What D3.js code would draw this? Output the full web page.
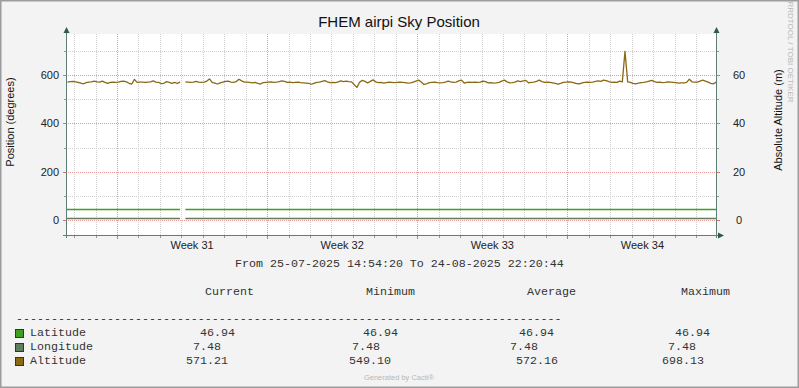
<!DOCTYPE html>
<html>
<head>
<meta charset="utf-8">
<script src="https://cdn.jsdelivr.net/npm/d3@7"></script>
<style>
	body { margin: 0; background: #f3f3f3; }
	svg { display: block; }
</style>
</head>
<body>
<svg id="chart" width="799" height="388"></svg>
<script>

	// Texts
	var title = "FHEM airpi Sky Position";
	var leftTitle = "Position (degrees)";
	var rightTitle = "Absolute Altitude (m)";
	var watermark = "RRDTOOL / TOBI OETIKER";
	var footer = "Generated by Cacti\u00ae";

	// Time range of the graph
	var startTime = new Date(Date.UTC(2025, 6, 25, 14, 54, 20));
	var endTime = new Date(Date.UTC(2025, 7, 24, 22, 20, 44));
	var periodText = "From 25-07-2025 14:54:20 To 24-08-2025 22:20:44";

	// Altitude samples, one every 3 hours from 25-07 16:30 (null = no data)
	var altStart = new Date(Date.UTC(2025, 6, 25, 16, 30));
	var altStepHours = 3;
	var altitude = [
		571, 573, 574, 572, 570, 567, 564, 569, 571, 572,
		575, 572, 571, 575, 570, 566, 570, 571, 570, 571,
		574, 575, 572, 566, 563, 582, 570, 571, 571, 570,
		571, 572, 576, 571, 570, 565, 566, 573, 570, 566,
		570, 565, 572, null, 572, 571, 570, 571, 574, 571,
		570, 571, 575, 584, 570, 567, 563, 568, 571, 574,
		575, 571, 570, 573, 583, 576, 571, 571, 570, 568,
		570, 566, 563, 569, 570, 571, 572, 570, 571, 573,
		576, 574, 570, 571, 569, 570, 571, 569, 568, 567,
		566, 562, 566, 570, 571, 574, 577, 572, 569, 570,
		569, 572, 576, 573, 575, 573, 572, 560, 549.1, 570,
		578, 574, 567, 574, 580, 572, 569, 570, 567, 569,
		571, 570, 569, 570, 571, 570, 569, 567, 568, 571,
		575, 579, 571, 561, 564, 569, 570, 571, 569, 568,
		569, 571, 575, 572, 570, 571, 576, 579, 567, 570,
		571, 570, 571, 570, 571, 575, 573, 568, 569, 567,
		568, 570, 575, 579, 572, 568, 569, 571, 576, 573,
		576, 578, 568, 570, 571, 574, 579, 573, 570, 571,
		570, 568, 566, 563, 566, 570, 571, 572, 571, 568,
		565, 564, 568, 570, 571, 570, 571, 574, 576, 574,
		579, 577, 573, 570, 571, 570, 575, 572, 698.13, 572,
		570, 566, 564, 567, 569, 570, 572, 575, 578, 573,
		570, 571, 569, 570, 572, 571, 570, 569, 567, 568,
		568, 570, 583, 572, 571, 571, 575, 579, 575, 571,
		566, 564, 571.21
	];

	// Latitude / longitude are flat, with the same hole as altitude
	var flatTimes = [startTime, new Date(Date.UTC(2025, 6, 30, 22, 30)), null,
		new Date(Date.UTC(2025, 6, 31, 4, 30)), endTime];
	var latitude = [46.94, 46.94, null, 46.94, 46.94];
	var longitude = [7.48, 7.48, null, 7.48, 7.48];

	// Axes
	var leftMajor = [0, 200, 400, 600];
	var leftMinor = [100, 300, 500, 700];
	var rightLabels = [0, 20, 40, 60];
	var weekLabels = ["Week 31", "Week 32", "Week 33", "Week 34"];

	// Legend
	var seriesNames = ["Latitude", "Longitude", "Altitude"];
	var seriesColors = ["#3f9f22", "#5e7e5e", "#8a6814"];
	var statHeaders = ["Current", "Minimum", "Average", "Maximum"];
	var statCurrent = [46.94, 7.48, 571.21];
	var statMinimum = [46.94, 7.48, 549.10];
	var statAverage = [46.94, 7.48, 572.16];
	var statMaximum = [46.94, 7.48, 698.13];

	var svg = d3.select("#chart");
	var sans = "'Liberation Sans', Arial, sans-serif";
	var mono = "'Liberation Mono', 'Courier New', monospace";

	// frame
	svg.append("rect").attr("x", 0.75).attr("y", 0.75).attr("width", 797.5).attr("height", 386.5)
		.attr("fill", "#f3f3f3").attr("stroke", "#9c9c9c").attr("stroke-width", 1.5);

	var x = d3.scaleUtc().domain([startTime, endTime]).range([66, 716]);
	var y = d3.scaleLinear().domain([-62, 770]).range([235, 34]);
	var yRight = d3.scaleLinear().domain([-6.2, 77]).range([235, 34]);

	// plot area
	svg.append("rect").attr("x", 66).attr("y", 34).attr("width", 650).attr("height", 201).attr("fill", "#fff");

	var grid = svg.append("g").attr("shape-rendering", "crispEdges").attr("stroke-dasharray", "1,1");
	var mondays = d3.utcMonday.range(startTime, endTime);
	var days = d3.utcDay.range(startTime, endTime).filter(function(d) { return d.getUTCDay() !== 1; });

	grid.selectAll(".vmin").data(days).enter().append("line")
		.attr("x1", function(d) { return Math.round(x(d)) + 0.5; })
		.attr("x2", function(d) { return Math.round(x(d)) + 0.5; })
		.attr("y1", 34).attr("y2", 235).attr("stroke", "#cfcfcf");
	grid.selectAll(".hmin").data(leftMinor).enter().append("line")
		.attr("x1", 66).attr("x2", 716)
		.attr("y1", function(d) { return Math.round(y(d)) + 0.5; })
		.attr("y2", function(d) { return Math.round(y(d)) + 0.5; })
		.attr("stroke", "#cfcfcf");
	grid.selectAll(".vmaj").data(mondays).enter().append("line")
		.attr("x1", function(d) { return Math.round(x(d)) + 0.5; })
		.attr("x2", function(d) { return Math.round(x(d)) + 0.5; })
		.attr("y1", 34).attr("y2", 235).attr("stroke", "#e89a9a");
	grid.selectAll(".hmaj").data(leftMajor).enter().append("line")
		.attr("x1", 66).attr("x2", 716)
		.attr("y1", function(d) { return Math.round(y(d)) + 0.5; })
		.attr("y2", function(d) { return Math.round(y(d)) + 0.5; })
		.attr("stroke", "#e89a9a");

	// series
	svg.append("clipPath").attr("id", "plotclip").append("rect")
		.attr("x", 66).attr("y", 30).attr("width", 650).attr("height", 205);
	var series = svg.append("g").attr("clip-path", "url(#plotclip)").attr("fill", "none");

	var flatLine = d3.line()
		.defined(function(d, i) { return d != null; })
		.x(function(d, i) { return x(flatTimes[i]); })
		.y(function(d) { return Math.round(y(d)) + 0.5; });
	series.append("path").attr("d", flatLine(latitude)).attr("stroke", seriesColors[0]).attr("stroke-width", 1.5);
	series.append("path").attr("d", flatLine(longitude)).attr("stroke", seriesColors[1]).attr("stroke-width", 1.5);

	var altLine = d3.line()
		.defined(function(d) { return d != null; })
		.x(function(d, i) { return x(new Date(altStart.getTime() + i * altStepHours * 3600000)); })
		.y(function(d) { return y(d); });
	series.append("path").attr("d", altLine(altitude)).attr("stroke", seriesColors[2])
		.attr("stroke-width", 1.3).attr("stroke-linejoin", "round");

	// axes
	var axisColor = "#5f7f75";
	var axes = svg.append("g").attr("shape-rendering", "crispEdges");
	axes.append("line").attr("x1", 66.5).attr("x2", 66.5).attr("y1", 31).attr("y2", 238).attr("stroke", axisColor);
	axes.append("line").attr("x1", 716.5).attr("x2", 716.5).attr("y1", 31).attr("y2", 238).attr("stroke", axisColor);
	axes.append("line").attr("x1", 63).attr("x2", 719).attr("y1", 235.5).attr("y2", 235.5).attr("stroke", axisColor);
	axes.selectAll(".tmin").data(days).enter().append("line")
		.attr("x1", function(d) { return Math.round(x(d)) + 0.5; })
		.attr("x2", function(d) { return Math.round(x(d)) + 0.5; })
		.attr("y1", 236).attr("y2", 238).attr("stroke", "#999");
	axes.selectAll(".tmaj").data(mondays).enter().append("line")
		.attr("x1", function(d) { return Math.round(x(d)) + 0.5; })
		.attr("x2", function(d) { return Math.round(x(d)) + 0.5; })
		.attr("y1", 236).attr("y2", 239).attr("stroke", "#e07070");
	[leftMajor, leftMinor].forEach(function(set, k) {
		axes.selectAll(null).data(set).enter().append("line")
			.attr("x1", k ? 64 : 63).attr("x2", 66)
			.attr("y1", function(d) { return Math.round(y(d)) + 0.5; })
			.attr("y2", function(d) { return Math.round(y(d)) + 0.5; })
			.attr("stroke", k ? "#999" : "#e07070");
		axes.selectAll(null).data(set).enter().append("line")
			.attr("x1", 717).attr("x2", k ? 719 : 720)
			.attr("y1", function(d) { return Math.round(y(d)) + 0.5; })
			.attr("y2", function(d) { return Math.round(y(d)) + 0.5; })
			.attr("stroke", k ? "#999" : "#e07070");
	});

	// arrow heads
	var arrowColor = "#2f5a4c";
	svg.append("path").attr("d", "M63.5,33 L66.5,27 L69.5,33 Z").attr("fill", arrowColor);
	svg.append("path").attr("d", "M713.5,33 L716.5,27 L719.5,33 Z").attr("fill", arrowColor);
	svg.append("path").attr("d", "M718,232.5 L724,235.5 L718,238.5 Z").attr("fill", arrowColor);

	// tick labels
	svg.selectAll(".yl").data(leftMajor).enter().append("text")
		.attr("x", 59).attr("y", function(d) { return y(d) + 4; })
		.attr("text-anchor", "end").attr("font-family", sans).attr("font-size", 11).attr("fill", "#222")
		.text(function(d) { return d; });
	svg.selectAll(".yr").data(rightLabels).enter().append("text")
		.attr("x", 739).attr("y", function(d) { return yRight(d) + 4; })
		.attr("text-anchor", "middle").attr("font-family", sans).attr("font-size", 11).attr("fill", "#222")
		.text(function(d) { return d; });
	svg.selectAll(".xl").data(mondays).enter().append("text")
		.attr("x", function(d) { return x(new Date(d.getTime() + 3.5 * 86400000)); })
		.attr("y", 249).attr("text-anchor", "middle").attr("font-family", sans).attr("font-size", 11).attr("fill", "#222")
		.text(function(d, i) { return weekLabels[i]; });

	// titles
	svg.append("text").attr("x", 399).attr("y", 27).attr("text-anchor", "middle")
		.attr("font-family", sans).attr("font-size", 15).attr("fill", "#111").text(title);
	svg.append("text").attr("transform", "translate(14,122) rotate(-90)").attr("text-anchor", "middle")
		.attr("font-family", sans).attr("font-size", 11).attr("fill", "#111").text(leftTitle);
	svg.append("text").attr("transform", "translate(782,120) rotate(-90)").attr("text-anchor", "middle")
		.attr("font-family", sans).attr("font-size", 11).attr("fill", "#111").text(rightTitle);
	svg.append("text").attr("transform", "translate(788,52) rotate(90)").attr("text-anchor", "middle")
		.attr("font-family", sans).attr("font-size", 8).attr("fill", "#b8b8b8").text(watermark);

	// legend
	var legend = svg.append("g").attr("font-family", mono).attr("font-size", 11.67).attr("fill", "#333");
	legend.append("text").attr("x", 235).attr("y", 266.5).text(periodText);
	var headerX = [205, 366, 527, 681];
	legend.selectAll(".hd").data(statHeaders).enter().append("text")
		.attr("x", function(d, i) { return headerX[i]; }).attr("y", 295).text(function(d) { return d; });
	legend.append("text").attr("x", 16).attr("y", 321.5).text(d3.range(78).map(function() { return "-"; }).join(""));

	var rowY = [336, 350, 364];
	var colX = [[200, 363, 519, 675], [193, 352, 510, 668], [186, 349, 516, 662]];
	seriesNames.forEach(function(name, i) {
		legend.append("rect").attr("x", 15.5).attr("y", rowY[i] - 6.5).attr("width", 8).attr("height", 8)
			.attr("fill", seriesColors[i]).attr("stroke", "#333").attr("stroke-width", 1);
		legend.append("text").attr("x", 30).attr("y", rowY[i]).text(name);
		[statCurrent, statMinimum, statAverage, statMaximum].forEach(function(stat, k) {
			legend.append("text").attr("x", colX[i][k]).attr("y", rowY[i]).text(stat[i].toFixed(2));
		});
	});

	svg.append("text").attr("x", 399).attr("y", 380).attr("text-anchor", "middle")
		.attr("font-family", sans).attr("font-size", 7.5).attr("fill", "#b8b8b8").text(footer);

</script>
</body>
</html>
